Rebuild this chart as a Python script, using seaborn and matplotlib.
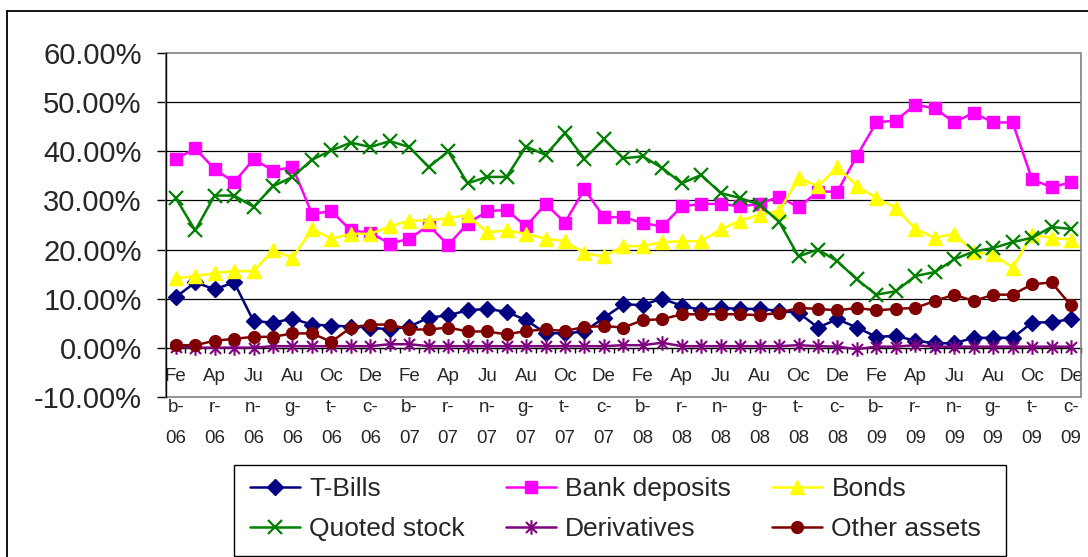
import numpy as np
import matplotlib
matplotlib.use("Agg")
import matplotlib.pyplot as plt
from matplotlib.path import Path
from matplotlib.patches import Rectangle
from matplotlib.ticker import FuncFormatter
import seaborn as sns

# ---------------- data ----------------
months = ["Feb-06", "Mar-06", "Apr-06", "May-06", "Jun-06", "Jul-06", "Aug-06", "Sep-06", "Oct-06", "Nov-06", "Dec-06",
          "Jan-07", "Feb-07", "Mar-07", "Apr-07", "May-07", "Jun-07", "Jul-07", "Aug-07", "Sep-07", "Oct-07", "Nov-07", "Dec-07",
          "Jan-08", "Feb-08", "Mar-08", "Apr-08", "May-08", "Jun-08", "Jul-08", "Aug-08", "Sep-08", "Oct-08", "Nov-08", "Dec-08",
          "Jan-09", "Feb-09", "Mar-09", "Apr-09", "May-09", "Jun-09", "Jul-09", "Aug-09", "Sep-09", "Oct-09", "Nov-09", "Dec-09"]

tick_labels = ["Feb-06", "Apr-06", "Jun-06", "Aug-06", "Oct-06", "Dec-06",
               "Feb-07", "Apr-07", "Jun-07", "Aug-07", "Oct-07", "Dec-07",
               "Feb-08", "Apr-08", "Jun-08", "Aug-08", "Oct-08", "Dec-08",
               "Feb-09", "Apr-09", "Jun-09", "Aug-09", "Oct-09", "Dec-09"]

t_bills = [10.3, 13.3, 11.9, 13.3, 5.4, 5.1, 5.9, 4.7, 4.5, 4.3,
           4.1, 3.7, 4.3, 6.1, 6.6, 7.6, 7.9, 7.3, 5.6, 3.0,
           2.9, 3.3, 6.1, 8.8, 8.7, 10.0, 8.5, 7.7, 8.1, 7.9,
           7.9, 7.5, 7.1, 4.1, 5.8, 4.1, 2.2, 2.4, 1.4, 0.9,
           0.9, 2.0, 2.0, 2.0, 5.1, 5.2, 5.8]

bank_deposits = [38.4, 40.6, 36.4, 33.7, 38.4, 36.1, 36.8, 27.3, 27.8, 23.9,
                 23.4, 21.2, 22.2, 24.9, 20.9, 25.3, 27.8, 28.1, 24.7, 29.3,
                 25.5, 32.3, 26.6, 26.6, 25.4, 24.7, 28.8, 29.3, 29.3, 28.8,
                 29.3, 30.8, 28.6, 31.8, 31.8, 39.1, 45.9, 46.3, 49.5, 48.8,
                 45.9, 47.9, 45.9, 45.9, 34.3, 32.7, 33.7]

bonds = [14.1, 14.6, 15.2, 15.6, 15.6, 19.9, 18.3, 24.2, 22.2, 23.2,
         23.2, 24.7, 25.9, 25.9, 26.4, 27.0, 23.5, 23.9, 23.2, 22.2,
         21.7, 19.2, 18.6, 20.7, 20.7, 21.5, 21.7, 21.7, 24.1, 25.9,
         27.1, 27.8, 34.6, 32.9, 36.8, 33.0, 30.5, 28.5, 24.2, 22.4,
         23.2, 19.4, 19.0, 16.3, 23.0, 22.4, 22.0]

quoted_stock = [30.5, 23.9, 31.0, 31.0, 28.7, 32.9, 34.8, 38.3, 40.2, 41.8,
                40.9, 42.1, 40.9, 36.8, 40.0, 33.5, 34.8, 34.8, 41.0, 39.3,
                43.7, 38.5, 42.5, 38.6, 39.0, 36.6, 33.5, 35.2, 31.5, 30.5,
                29.1, 25.7, 18.6, 20.0, 17.6, 13.9, 10.8, 11.5, 14.6, 15.4,
                18.0, 19.6, 20.3, 21.5, 22.4, 24.6, 24.2]

derivatives = [0.2, 0.0, 0.0, 0.0, 0.0, 0.3, 0.3, 0.3, 0.3, 0.3,
               0.3, 0.7, 0.7, 0.3, 0.3, 0.3, 0.3, 0.3, 0.3, 0.3,
               0.3, 0.3, 0.3, 0.5, 0.5, 1.0, 0.3, 0.3, 0.3, 0.3,
               0.3, 0.3, 0.5, 0.3, 0.2, -0.3, 0.2, 0.2, 0.5, 0.2,
               0.2, 0.2, 0.2, 0.2, 0.2, 0.2, 0.2]

other_assets = [0.5, 0.5, 1.4, 1.8, 2.2, 2.2, 2.9, 2.9, 1.2, 4.1,
                4.7, 4.7, 3.7, 3.7, 4.1, 3.3, 3.3, 2.7, 3.4, 3.7,
                3.4, 4.2, 4.4, 4.1, 5.6, 5.8, 6.8, 6.8, 6.8, 6.8,
                6.6, 7.1, 8.1, 7.9, 7.6, 8.1, 7.6, 7.9, 8.1, 9.5,
                10.8, 9.5, 10.8, 10.8, 12.9, 13.3, 8.6]

y_ticks = [-10, 0, 10, 20, 30, 40, 50, 60]

# ---------------- style ----------------
sns.set_style("white")
plt.rcParams["font.family"] = ["Liberation Sans", "DejaVu Sans"]

asterisk = Path([(0, -1), (0, 1), (-0.75, -0.75), (0.75, 0.75), (-0.75, 0.75), (0.75, -0.75)],
                [Path.MOVETO, Path.LINETO, Path.MOVETO, Path.LINETO, Path.MOVETO, Path.LINETO])

series = [
    ("T-Bills", t_bills, "#000080", "D", 8.5, 1.0),
    ("Bank deposits", bank_deposits, "#FF00FF", "s", 8.5, 1.0),
    ("Bonds", bonds, "#FFFF00", "^", 10, 1.0),
    ("Quoted stock", quoted_stock, "#008000", "x", 9.5, 1.6),
    ("Derivatives", derivatives, "#800080", asterisk, 10.5, 1.5),
    ("Other assets", other_assets, "#800000", "o", 8.5, 1.0),
]

fig = plt.figure(figsize=(10.88, 5.57), dpi=100)
ax = fig.add_axes([0.15257, 0.28779, 0.84072, 0.61652])

x = np.arange(len(months))

# gridlines
for v in y_ticks:
    if v not in (y_ticks[0], 0, y_ticks[-1]):
        ax.axhline(v, color="black", lw=0.9, zorder=1)

handles = {}
for name, vals, color, marker, ms, mew in series:
    sns.lineplot(x=x, y=vals, ax=ax, color=color, linewidth=1.8, marker=marker,
                 markersize=ms, markeredgecolor=color, markerfacecolor=color,
                 markeredgewidth=mew, legend=False, zorder=3)
    handles[name] = ax.lines[-1]

ax.set_xlim(-0.5, len(months) - 0.5)
ax.set_ylim(y_ticks[0], y_ticks[-1])

# y axis
ax.set_yticks(y_ticks)
ax.yaxis.set_major_formatter(FuncFormatter(lambda v, p: f"{v:.2f}%"))
ax.tick_params(axis="y", which="major", left=True, length=6.5, width=1, color="black",
               pad=11, labelsize=21, direction="out")

# x axis (crosses at 0)
ax.set_xticks(x[::2])
ax.set_xticklabels([f"{s[:2]}\n{s[2:4]}\n{s[4:]}" for s in tick_labels])
ax.set_xticks(np.arange(0.5, len(months), 1.0), minor=True)
ax.tick_params(axis="x", which="major", bottom=True, length=0, pad=15, labelsize=13.5)
ax.tick_params(axis="x", which="minor", bottom=True, length=3.5, width=1, color="black", direction="out")

ax.spines["bottom"].set_position(("data", 0))
ax.spines["bottom"].set_color("black")
ax.spines["bottom"].set_linewidth(1.0)
ax.spines["bottom"].set_zorder(2)
ax.spines["left"].set_color("black")
ax.spines["left"].set_linewidth(1.0)
ax.spines["left"].set_zorder(4)
ax.spines["top"].set_visible(False)
ax.spines["right"].set_visible(False)

# plot area border (gray)
ax.add_patch(Rectangle((0, 0), 1, 1, transform=ax.transAxes, fill=False,
                       edgecolor="#808080", lw=1.2, clip_on=False, zorder=2.5))

# chart outer border
fig.add_artist(Rectangle((6.7 / 1088, -0.05), 1.2, (557 - 10.7) / 557 + 0.05,
                         transform=fig.transFigure, fill=False, edgecolor="black", lw=1.3))

# legend (frame drawn separately)
fig.add_artist(Rectangle((234 / 1088, 1 - 555.5 / 557), (1006 - 234) / 1088, (555.5 - 465) / 557,
                         transform=fig.transFigure, fill=False, edgecolor="black", lw=1.0))
order = ["T-Bills", "Quoted stock", "Bank deposits", "Derivatives", "Bonds", "Other assets"]
leg = fig.legend([handles[n] for n in order], order, ncol=3, loc="center left",
                 bbox_to_anchor=(250 / 1088, 1 - 509 / 557),
                 bbox_transform=fig.transFigure, frameon=False,
                 fontsize=19, handlelength=1.9, handletextpad=0.35, columnspacing=1.55,
                 labelspacing=0.6, borderpad=0, borderaxespad=0)

# apply line spacing to the (now created) tick labels
fig.canvas.draw()
for t in ax.get_xticklabels():
    t.set_linespacing(2.05)

fig.savefig("out.png", dpi=100)
